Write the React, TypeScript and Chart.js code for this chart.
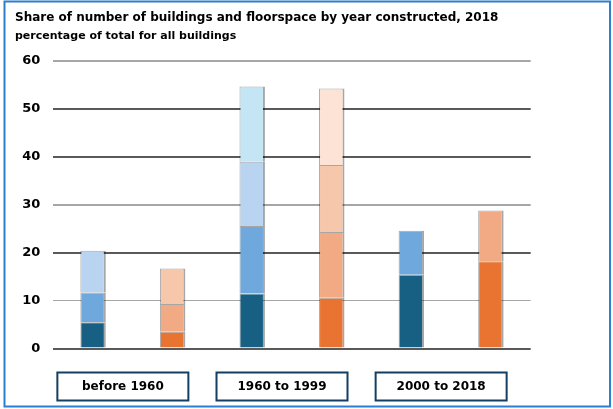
import React, { useEffect, useRef } from "react";
import { Chart, registerables } from "chart.js";

Chart.register(...registerables);

const categories = ["before 1960", "1960 to 1999", "2000 to 2018"];
// stacked layer increments (bottom to top), percentage of total
const buildingsBefore1960 = [5.5, 6.2, 8.7];
const floorspaceBefore1960 = [3.5, 5.8, 7.4];
const buildings1960to1999 = [11.5, 14.1, 13.4, 15.7];
const floorspace1960to1999 = [10.6, 13.7, 14.0, 16.0];
const buildings2000to2018 = [15.4, 9.2];
const floorspace2000to2018 = [18.2, 10.6];
const yTicks = [0, 10, 20, 30, 40, 50, 60];

const blueShades = ["#175f83", "#6fa8dd", "#b9d4f1", "#c3e5f4"];
const orangeShades = ["#e97431", "#f1aa83", "#f6c7aa", "#fde3d6"];

const groups = [
  [buildingsBefore1960, floorspaceBefore1960],
  [buildings1960to1999, floorspace1960to1999],
  [buildings2000to2018, floorspace2000to2018],
];

const FONT = "'DejaVu Sans', sans-serif";

export default function App() {
  const ref = useRef<HTMLCanvasElement>(null);

  useEffect(() => {
    const canvas = ref.current;
    if (!canvas) return;
    const labels: string[] = [];
    groups.forEach((_, i) => {
      labels.push(categories[i] + " buildings", categories[i] + " floorspace");
    });
    const layers = 4;
    const datasets = [] as any[];
    for (let l = 0; l < layers; l++) {
      const data: (number | null)[] = [];
      const colors: string[] = [];
      groups.forEach(([b, f]) => {
        data.push(b[l] ?? null);
        colors.push(blueShades[l]);
        data.push(f[l] ?? null);
        colors.push(orangeShades[l]);
      });
      datasets.push({
        label: "layer " + (l + 1),
        data,
        backgroundColor: colors,
        borderColor: "rgba(0,0,0,0.35)",
        borderWidth: { left: 1, right: 2, top: 1, bottom: 0 },
        borderSkipped: false,
        categoryPercentage: 1,
        barPercentage: 0.32,
      });
    }

    const decor = {
      id: "decor",
      afterDraw(chart: any) {
        const ctx = chart.ctx;
        const x = chart.scales.x;
        ctx.save();
        // outer frame
        ctx.strokeStyle = "#2b7fd1";
        ctx.lineWidth = 2;
        ctx.strokeRect(4.5, 1.5, 605.5, 405);
        // category boxes
        ctx.font = "bold 12px " + FONT;
        ctx.textAlign = "center";
        ctx.textBaseline = "middle";
        categories.forEach((c, i) => {
          const cx = (x.getPixelForValue(2 * i) + x.getPixelForValue(2 * i + 1)) / 2 - 10;
          const w = 131;
          ctx.fillStyle = "#ffffff";
          ctx.fillRect(cx - w / 2, 372.5, w, 28);
          ctx.strokeStyle = "#123f63";
          ctx.lineWidth = 2;
          ctx.strokeRect(cx - w / 2, 372.5, w, 28);
          ctx.fillStyle = "#000000";
          ctx.fillText(c, cx, 387);
        });
        ctx.restore();
      },
    };

    const chart = new Chart(canvas, {
      type: "bar",
      data: { labels, datasets },
      plugins: [decor],
      options: {
        animation: false,
        responsive: false,
        devicePixelRatio: 1,
        layout: { padding: { left: 15, right: 82.3, top: 0, bottom: 60.5 } },
        plugins: {
          legend: { display: false },
          tooltip: { enabled: false },
          title: {
            display: true,
            text: "Share of number of buildings and floorspace by year constructed, 2018",
            align: "start",
            color: "#000",
            font: { family: FONT, size: 12, weight: "bold" },
            padding: { top: 11, bottom: 4.5 },
          },
          subtitle: {
            display: true,
            text: "percentage of total for all buildings",
            align: "start",
            color: "#000",
            font: { family: FONT, size: 11, weight: "bold" },
            padding: { top: 0, bottom: 18 },
          },
        },
        scales: {
          x: {
            stacked: true,
            display: false,
          },
          y: {
            stacked: true,
            min: 0,
            max: 60,
            afterFit: (s: any) => {
              s.width = 38.3;
            },
            afterBuildTicks: (s: any) => {
              s.ticks = yTicks.map((v) => ({ value: v }));
            },
            border: { display: false },
            grid: {
              drawTicks: false,
              color: (c: any) => {
                const v = c.tick?.value;
                return v === 60 || v === 30 || v === 10 ? "#a6a6a6" : "#595959";
              },
              lineWidth: (c: any) => {
                const v = c.tick?.value;
                return v === 10 ? 1 : 2;
              },
            },
            ticks: {
              padding: 13,
              color: "#000",
              font: { family: FONT, size: 13, weight: "bold" },
            },
          },
        },
      },
    });
    return () => chart.destroy();
  }, []);

  return (
    <div style={{ position: "fixed", left: 0, top: 0, width: 613, height: 409, background: "#fff" }}>
      <canvas ref={ref} width={613} height={409} style={{ display: "block" }} />
    </div>
  );
}
